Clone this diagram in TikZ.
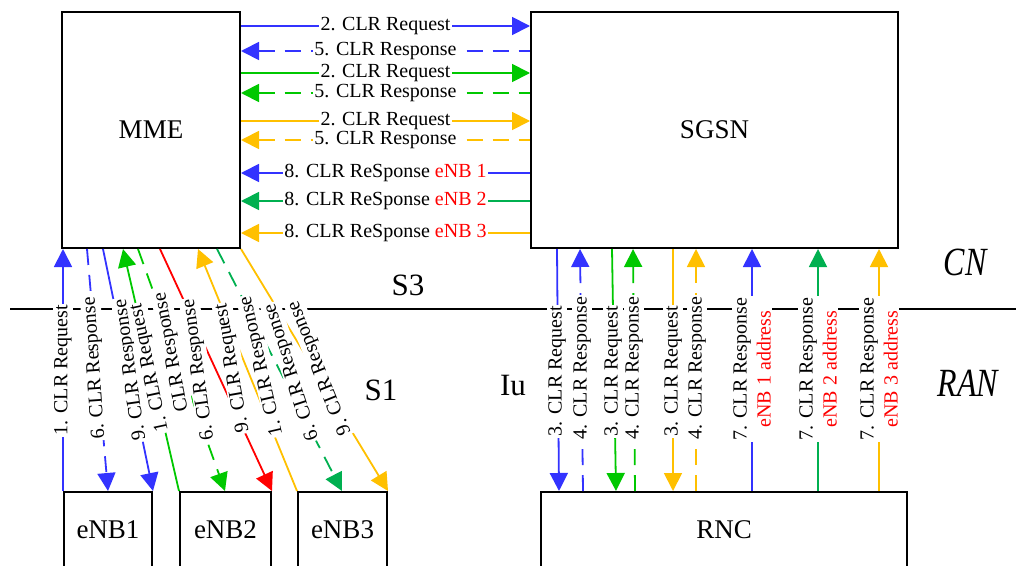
\documentclass[tikz,border=0pt]{standalone}
\usepackage{fontspec}
\setmainfont{Liberation Serif}
\usetikzlibrary{arrows.meta}
\definecolor{cblue}{HTML}{3333FF}
\definecolor{cgreen}{HTML}{00C800}
\definecolor{cdgreen}{HTML}{00B050}
\definecolor{cyel}{HTML}{FFC000}
\definecolor{cred}{HTML}{FF0000}
\begin{document}
\begin{tikzpicture}[x=1pt,y=-1pt,
  box/.style={draw=black,line width=2pt,inner sep=0pt,font=\fontsize{27}{30}\selectfont},
  conn/.style={line width=1.8pt},
  dsh/.style={dash pattern=on 16pt off 10pt},
  tip/.style={-{Triangle[length=18pt,width=18pt]}},
  rtip/.style={{Triangle[length=18pt,width=18pt]}-},
  lbl/.style={fill=white,inner sep=1.5pt,font=\fontsize{20}{24}\selectfont},
  big/.style={font=\fontsize{31}{34}\selectfont},
  ital/.style={font=\fontsize{40}{44}\selectfont\itshape,xscale=0.8},
]
\useasboundingbox (0,0) rectangle (1016,565);
% boxes
\node[box,minimum width=178pt,minimum height=236pt] (mme) at (151,130) {MME};
\node[box,minimum width=367pt,minimum height=236pt] (sgsn) at (714.5,130) {SGSN};
\node[box,minimum width=88pt,minimum height=76pt] (enb1) at (108,530) {eNB1};
\node[box,minimum width=91pt,minimum height=76pt] (enb2) at (225.5,530) {eNB2};
\node[box,minimum width=89pt,minimum height=76pt] (enb3) at (342.5,530) {eNB3};
\node[box,minimum width=366pt,minimum height=76pt] (rnc) at (724,530) {RNC};
% separator
\draw[line width=2.5pt] (10,309) -- (1016,309);
% top arrows
\draw[conn,cblue,tip] (mme.east |- 0,26) -- node[lbl,text=black]{2. CLR Request} (sgsn.west |- 0,26);
\draw[conn,cblue,dsh,rtip] (mme.east |- 0,51) -- node[lbl,text=black]{5. CLR Response} (sgsn.west |- 0,51);
\draw[conn,cgreen,tip] (mme.east |- 0,73) -- node[lbl,text=black]{2. CLR Request} (sgsn.west |- 0,73);
\draw[conn,cgreen,dsh,rtip] (mme.east |- 0,93) -- node[lbl,text=black]{5. CLR Response} (sgsn.west |- 0,93);
\draw[conn,cyel,tip] (mme.east |- 0,121) -- node[lbl,text=black]{2. CLR Request} (sgsn.west |- 0,121);
\draw[conn,cyel,dsh,rtip] (mme.east |- 0,140) -- node[lbl,text=black]{5. CLR Response} (sgsn.west |- 0,140);
\draw[conn,cblue,rtip] (mme.east |- 0,173) -- node[lbl,text=black]{8. CLR ReSponse \textcolor{cred}{eNB 1}} (sgsn.west |- 0,173);
\draw[conn,cdgreen,rtip] (mme.east |- 0,201) -- node[lbl,text=black]{8. CLR ReSponse \textcolor{cred}{eNB 2}} (sgsn.west |- 0,201);
\draw[conn,cyel,rtip] (mme.east |- 0,233) -- node[lbl,text=black]{8. CLR ReSponse \textcolor{cred}{eNB 3}} (sgsn.west |- 0,233);
% S1 connectors
\draw[conn,cblue,tip] (enb1.north -| 63,0) -- (mme.south -| 63,0);
\draw[conn,cblue,dsh,tip] (mme.south -| 87,0) -- (enb1.north -| 108,0);
\draw[conn,cblue,tip] (mme.south -| 103,0) -- (enb1.north east);
\draw[conn,cgreen,tip] (enb2.north west) -- (mme.south -| 123,0);
\draw[conn,cgreen,dsh,tip] (mme.south -| 138,0) -- (enb2.north -| 225,0);
\draw[conn,cred,tip] (mme.south -| 160,0) -- (enb2.north east);
\draw[conn,cyel,tip] (enb3.north west) -- (mme.south -| 198,0);
\draw[conn,cdgreen,dsh,tip] (mme.south -| 217,0) -- (enb3.north -| 342,0);
\draw[conn,cyel,tip] (mme.south east) -- (enb3.north east);
% Iu connectors
\draw[conn,cblue,tip] (sgsn.south -| 557,0) -- (rnc.north -| 559,0);
\draw[conn,cblue,dsh,tip] (rnc.north -| 583,0) -- (sgsn.south -| 580,0);
\draw[conn,cgreen,tip] (sgsn.south -| 612,0) -- (rnc.north -| 616,0);
\draw[conn,cgreen,dsh,tip] (rnc.north -| 635,0) -- (sgsn.south -| 633,0);
\draw[conn,cyel,tip] (sgsn.south -| 673,0) -- (rnc.north -| 673,0);
\draw[conn,cyel,dsh,tip] (rnc.north -| 696,0) -- (sgsn.south -| 696,0);
\draw[conn,cblue,tip] (rnc.north -| 752,0) -- (sgsn.south -| 752,0);
\draw[conn,cdgreen,tip] (rnc.north -| 818,0) -- (sgsn.south -| 818,0);
\draw[conn,cyel,tip] (rnc.north -| 879,0) -- (sgsn.south -| 879,0);
% S1 labels
\node[lbl,rotate=90] (la) at (63,370) {1. CLR Request};
\node[lbl,rotate=94] (lb) at (95,368) {6. CLR Response};
\node[lbl,rotate=98] (lc) at (131,370) {9. CLR Response};
\node[lbl,rotate=102] (ld) at (150,368) {1. CLR Request};
\node[lbl,rotate=101] (le) at (172,352) {CLR Response};
\node[lbl,rotate=98] (lf) at (199,370) {6. CLR Response};
\node[lbl,rotate=100] (lg) at (233,368) {9. CLR Request};
\node[lbl,rotate=103] (lh) at (262,366) {1. CLR Response};
\node[lbl,rotate=108] (li) at (292,372) {6. CLR Response};
\node[lbl,rotate=112] (lj) at (320,368) {9. CLR Response};
% Iu labels
\node[lbl,rotate=90] at (557,371) {3. CLR Request};
\node[lbl,rotate=90] at (582,368) {4. CLR Response};
\node[lbl,rotate=90] at (613,371) {3. CLR Request};
\node[lbl,rotate=90] at (634,368) {4. CLR Response};
\node[lbl,rotate=90] at (673,371) {3. CLR Request};
\node[lbl,rotate=90] at (697,368) {4. CLR Response};
\node[lbl,rotate=90,align=center] at (752,369) {7. CLR Response\\\textcolor{cred}{eNB 1 address}};
\node[lbl,rotate=90,align=center] at (818,369) {7. CLR Response\\\textcolor{cred}{eNB 2 address}};
\node[lbl,rotate=90,align=center] at (879,369) {7. CLR Response\\\textcolor{cred}{eNB 3 address}};
% interface / domain labels
\node[big] (s3) at (408,285) {S3};
\node[big] (s1) at (381,390) {S1};
\node[big] (iu) at (513,385) {Iu};
\node[ital] (cn) at (965,262) {CN};
\node[ital] (ran) at (968,383) {RAN};
\end{tikzpicture}
\end{document}
